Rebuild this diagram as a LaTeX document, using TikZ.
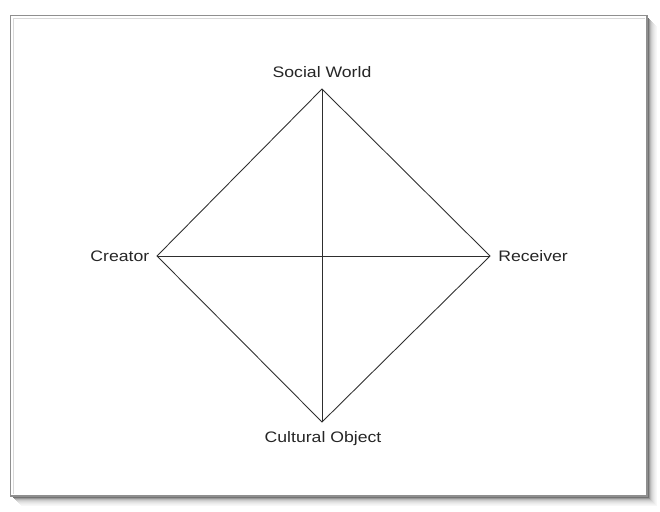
\documentclass[tikz,border=0pt]{standalone}
\usepackage{fontspec}
\setmainfont{Liberation Sans}
\usepackage{graphicx}
\definecolor{txt}{HTML}{262626}
\definecolor{edge}{HTML}{2E2E2E}
\definecolor{frame}{HTML}{8F8F8F}
\begin{document}
\begin{tikzpicture}[x=0.75pt,y=-0.75pt,
  lbl/.style={font=\fontsize{11.4pt}{13pt}\selectfont,text=txt,inner sep=0pt},
  link/.style={draw=edge,line width=0.65pt}]
\useasboundingbox (0,0) rectangle (660,511);
\fill[white] (0,0) rectangle (660,511);
% shadow
\foreach \d/\c in {9/0.97,8/0.95,7/0.92,6/0.89,5/0.85,4/0.8,3/0.72,2/0.6,1/0.45}{
  \pgfmathsetmacro{\g}{\c}
  \definecolor{sh}{gray}{\g}
  \draw[sh,line width=0.9pt] (12+\d,496+\d) -- (647+\d,496+\d) -- (647+\d,17+\d);
}
\draw[frame,line width=1.4pt,fill=white] (10.5,15.5) rectangle (647,496);
\draw[white!85!black,line width=0.5pt] (13,18) -- (13,494);
\draw[white!85!black,line width=0.5pt] (13,18) -- (645,18);
% vertices
\coordinate (T) at (322,89);
\coordinate (B) at (322,422);
\coordinate (L) at (157,256);
\coordinate (R) at (490,256);
\draw[link] (T) -- (R) -- (B) -- (L) -- cycle;
\draw[link] (T) -- (B);
\draw[link] (L) -- (R);
% labels
\node[lbl,anchor=base] (st) at (322,77) {\scalebox{1.16}[1]{Social World}};
\node[lbl,anchor=base east] (sl) at (149.5,261) {\scalebox{1.16}[1]{Creator}};
\node[lbl,anchor=base west] (sr) at (498,261) {\scalebox{1.16}[1]{Receiver}};
\node[lbl,anchor=base] (sb) at (323,442) {\scalebox{1.16}[1]{Cultural Object}};
\end{tikzpicture}
\end{document}
